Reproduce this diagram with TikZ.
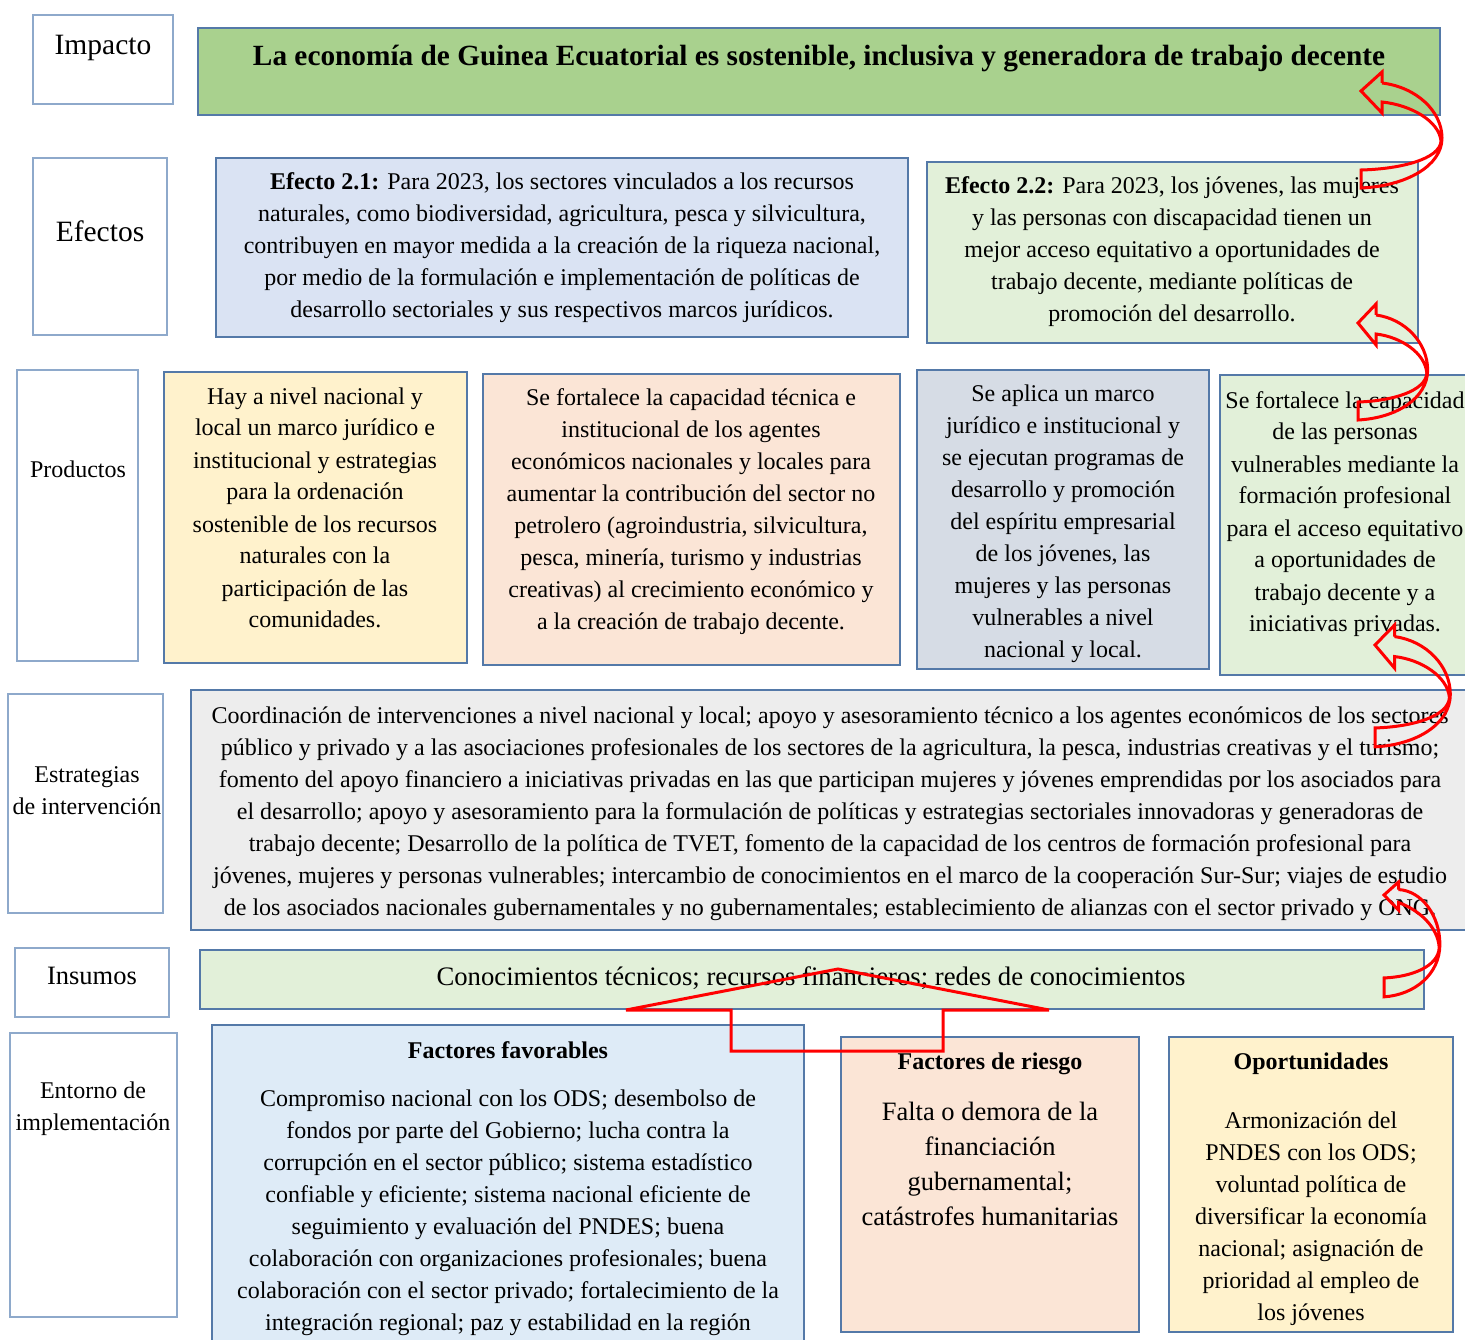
\documentclass[tikz,border=0pt]{standalone}
\usepackage{fontspec}
\setmainfont{Liberation Serif}
\definecolor{labc}{HTML}{8EA9CB}
\definecolor{boxc}{HTML}{5479A8}
\definecolor{cgreen}{HTML}{A9D18E}
\definecolor{clgreen}{HTML}{E2F0D9}
\definecolor{cblue}{HTML}{DAE3F3}
\definecolor{cyellow}{HTML}{FFF2CC}
\definecolor{corange}{HTML}{FBE5D6}
\definecolor{cslate}{HTML}{D6DCE5}
\definecolor{cgrey}{HTML}{EDEDED}
\definecolor{cpblue}{HTML}{DEEBF7}
\definecolor{ared}{HTML}{FF0000}
\newcommand{\mybox}[6]{\node[#6, anchor=north west, inner sep=0pt, outer sep=0pt, minimum width={(#4-#2)*1pt}, minimum height={(#5-#3)*1pt}] (#1) at (#2,#3) {};}
\newcommand{\ml}[1]{\begin{tabular}[t]{@{}c@{}}#1\end{tabular}}
\newcommand{\redarrow}[5]{%
\begin{scope}[shift={(#1,#2)}, xscale=#3, yscale=#4]
\draw[redline] (21,{-8*#5}) -- (21,{-19*#5}) -- (0,0) -- (21,{22*#5}) -- (21,{11*#5})
  .. controls (50,14) and (78,30) .. (80,50)
  .. controls (79,68) and (40,78) .. (0,79) -- (0,97)
  .. controls (45,95) and (81,75) .. (81,47)
  .. controls (81,20) and (55,-4) .. (21,{-8*#5});
\end{scope}}
\tikzset{
  lab/.style={draw=labc, line width=1.2pt, fill=white},
  cbox/.style={draw=boxc, line width=1.2pt},
  txt/.style={inner sep=0pt, anchor=base},
  ftwentyfour/.style={font=\fontsize{24}{32}\selectfont},
  fbold/.style={font=\fontsize{24}{32}\selectfont\bfseries},
  redline/.style={draw=ared, line width=3pt, line join=miter}
}
\begin{document}
\begin{tikzpicture}[x=1pt, y=-1pt]
\useasboundingbox (0,0) rectangle (1465,1340);
\clip (0,0) rectangle (1465,1340);
\fill[white] (0,0) rectangle (1465,1340);

% ---- label boxes
\mybox{limp}{33}{15}{173}{104}{lab}
\mybox{lefe}{33}{158}{167}{335}{lab}
\mybox{lpro}{17}{370}{138}{661}{lab}
\mybox{lest}{8}{694}{163}{913}{lab}
\mybox{lins}{15}{948}{169}{1017}{lab}
\mybox{lent}{10}{1033}{177}{1317}{lab}

\node[txt, font=\fontsize{29.5}{34}\selectfont] (timp) at (103,55) {Impacto};
\node[txt, font=\fontsize{29.5}{34}\selectfont] (tefe) at (100,242) {Efectos};
\node[txt, ftwentyfour] (tpro) at (78,477) {Productos};
\node[txt, ftwentyfour] (test) at (87,782) {\ml{Estrategias\\de intervención}};
\node[txt, font=\fontsize{26.5}{32}\selectfont] (tins) at (92,984) {Insumos};
\node[txt, ftwentyfour] (tent) at (93,1098) {\ml{Entorno de\\implementación}};

% ---- content boxes
\mybox{bimp}{198}{28}{1440}{115}{cbox, fill=cgreen}
\mybox{be21}{216}{158}{908}{337}{cbox, fill=cblue}
\mybox{be22}{927}{162}{1418}{343}{cbox, fill=clgreen}
\mybox{bp1}{164}{372}{467}{663}{cbox, fill=cyellow}
\mybox{bp2}{483}{374}{900}{665}{cbox, fill=corange}
\mybox{bp3}{917}{370}{1209}{669}{cbox, fill=cslate}
\mybox{bp4}{1220}{375}{1475}{675}{cbox, fill=clgreen}
\mybox{bstr}{191}{690}{1475}{930}{cbox, fill=cgrey}
\mybox{bins}{200}{950}{1424}{1009}{cbox, fill=clgreen}
\mybox{bfav}{212}{1025}{804}{1350}{cbox, fill=cpblue}
\mybox{bries}{841}{1037}{1139}{1332}{cbox, fill=corange}
\mybox{bopo}{1169}{1037}{1453}{1332}{cbox, fill=cyellow}

% ---- texts
\node[txt, font=\fontsize{29.3}{34}\selectfont\bfseries] (ttit) at (819,66)
  {La economía de Guinea Ecuatorial es sostenible, inclusiva y generadora de trabajo decente};

\node[txt, ftwentyfour] (te21) at (562,190) {\ml{\textbf{Efecto 2.1:} Para 2023, los sectores vinculados a los recursos\\
naturales, como biodiversidad, agricultura, pesca y silvicultura,\\
contribuyen en mayor medida a la creación de la riqueza nacional,\\
por medio de la formulación e implementación de políticas de\\
desarrollo sectoriales y sus respectivos marcos jurídicos.}};

\node[txt, ftwentyfour] (te22) at (1172,194) {\ml{\textbf{Efecto 2.2:} Para 2023, los jóvenes, las mujeres\\
y las personas con discapacidad tienen un\\
mejor acceso equitativo a oportunidades de\\
trabajo decente, mediante políticas de\\
promoción del desarrollo.}};

\node[txt, ftwentyfour] (tp1) at (315,404) {\ml{Hay a nivel nacional y\\local un marco jurídico e\\institucional y estrategias\\para la ordenación\\sostenible de los recursos\\naturales con la\\participación de las\\comunidades.}};

\node[txt, ftwentyfour] (tp2) at (691,406) {\ml{Se fortalece la capacidad técnica e\\institucional de los agentes\\económicos nacionales y locales para\\aumentar la contribución del sector no\\petrolero (agroindustria, silvicultura,\\pesca, minería, turismo y industrias\\creativas) al crecimiento económico y\\a la creación de trabajo decente.}};

\node[txt, ftwentyfour] (tp3) at (1063,402) {\ml{Se aplica un marco\\jurídico e institucional y\\se ejecutan programas de\\desarrollo y promoción\\del espíritu empresarial\\de los jóvenes, las\\mujeres y las personas\\vulnerables a nivel\\nacional y local.}};

\node[txt, ftwentyfour] (tp4) at (1345,408) {\ml{Se fortalece la capacidad\\de las personas\\vulnerables mediante la\\formación profesional\\para el acceso equitativo\\a oportunidades de\\trabajo decente y a\\iniciativas privadas.}};

\node[txt, ftwentyfour] (tstr) at (830,723) {\ml{Coordinación de intervenciones a nivel nacional y local; apoyo y asesoramiento técnico a los agentes económicos de los sectores\\
público y privado y a las asociaciones profesionales de los sectores de la agricultura, la pesca, industrias creativas y el turismo;\\
fomento del apoyo financiero a iniciativas privadas en las que participan mujeres y jóvenes emprendidas por los asociados para\\
el desarrollo; apoyo y asesoramiento para la formulación de políticas y estrategias sectoriales innovadoras y generadoras de\\
trabajo decente; Desarrollo de la política de TVET, fomento de la capacidad de los centros de formación profesional para\\
jóvenes, mujeres y personas vulnerables; intercambio de conocimientos en el marco de la cooperación Sur-Sur; viajes de estudio\\
de los asociados nacionales gubernamentales y no gubernamentales; establecimiento de alianzas con el sector privado y ONG.}};

\node[txt, font=\fontsize{26.7}{32}\selectfont] (tins2) at (811,985) {Conocimientos técnicos; recursos financieros; redes de conocimientos};

\node[txt, fbold] (tfavh) at (508,1058) {Factores favorables};
\node[txt, ftwentyfour] (tfav) at (508,1106) {\ml{Compromiso nacional con los ODS; desembolso de\\fondos por parte del Gobierno; lucha contra la\\corrupción en el sector público; sistema estadístico\\confiable y eficiente; sistema nacional eficiente de\\seguimiento y evaluación del PNDES; buena\\colaboración con organizaciones profesionales; buena\\colaboración con el sector privado; fortalecimiento de la\\integración regional; paz y estabilidad en la región}};

\node[txt, fbold] (triesh) at (990,1069) {Factores de riesgo};
\node[txt, font=\fontsize{26.5}{35}\selectfont] (tries) at (990,1120) {\ml{Falta o demora de la\\financiación\\gubernamental;\\catástrofes humanitarias}};

\node[txt, fbold] (topoh) at (1311,1069) {Oportunidades};
\node[txt, ftwentyfour] (topo) at (1311,1128) {\ml{Armonización del\\PNDES con los ODS;\\voluntad política de\\diversificar la economía\\nacional; asignación de\\prioridad al empleo de\\los jóvenes}};

% ---- red arrows
\redarrow{1361}{91}{1}{1}{1}
\redarrow{1358}{323}{0.86}{1}{1}
\redarrow{1375}{645}{0.93}{1.05}{1}
\redarrow{1384}{895}{0.69}{1.05}{0.65}

\draw[redline] (626,1010) -- (838,969) -- (1049,1010) -- (943,1010) -- (943,1051) -- (731,1051) -- (731,1010) -- cycle;
\end{tikzpicture}
\end{document}
